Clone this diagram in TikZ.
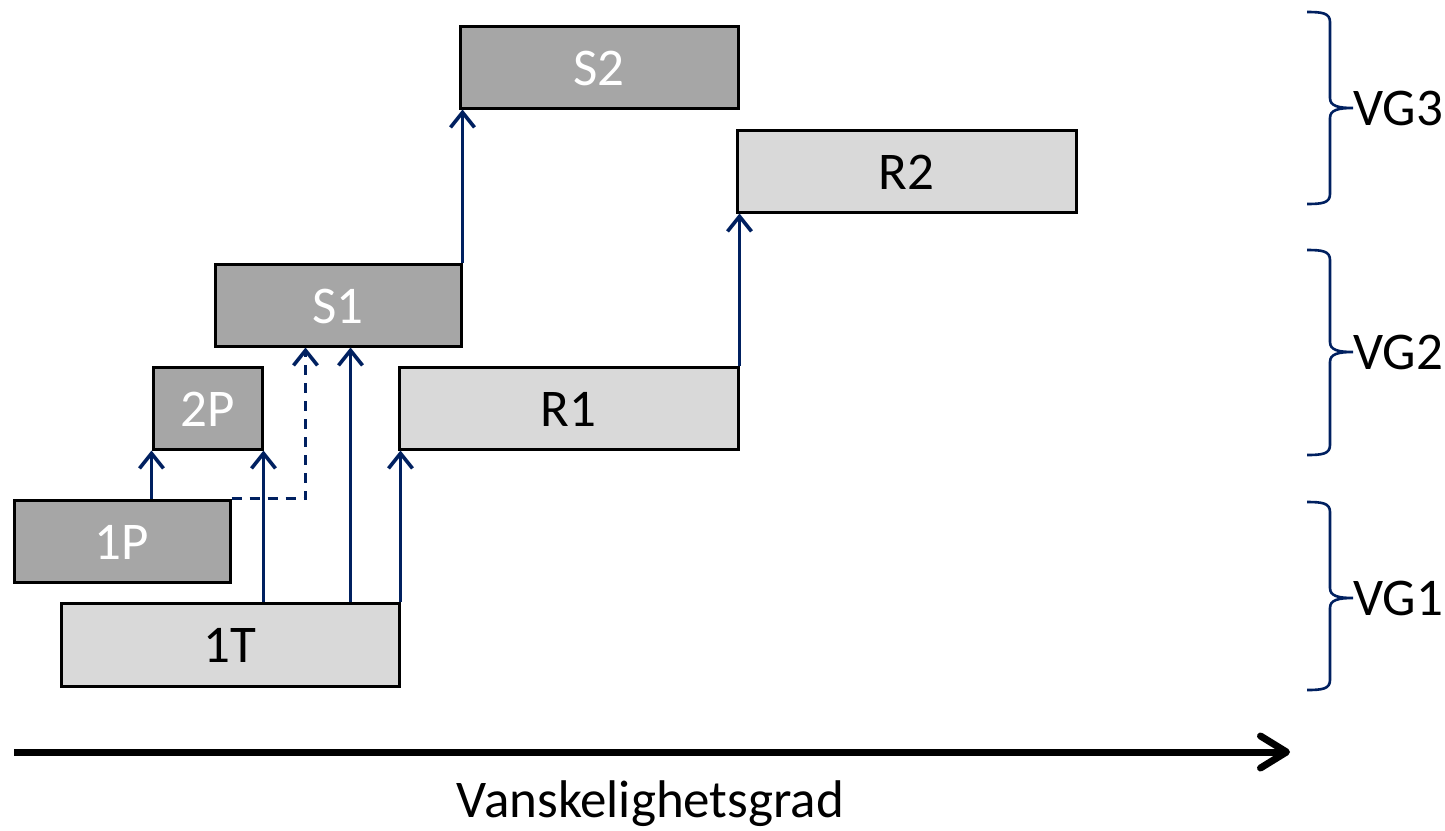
\documentclass[tikz,border=0pt]{standalone}
\usepackage{fontspec}
\setmainfont{Carlito}
\usetikzlibrary{arrows.meta}
\definecolor{navy}{HTML}{002060}
\definecolor{boxdark}{HTML}{A6A6A6}
\definecolor{boxlight}{HTML}{D9D9D9}
\begin{document}
\begin{tikzpicture}[x=1pt,y=-1pt,
 box/.style={draw=black,line width=3pt,rectangle,inner sep=0pt,text height=36pt,text depth=0pt,font=\fontsize{53}{58}\selectfont},
 dark/.style={box,fill=boxdark,text=white},
 light/.style={box,fill=boxlight,text=black},
 up/.style={draw=navy,line width=3.6pt,-{Straight Barb[length=15pt,width=24pt]}},
 dashup/.style={up,dash pattern=on 10pt off 8pt},
 bracestyle/.style={draw=navy,line width=2.6pt},
 vglabel/.style={anchor=west,inner sep=0pt,font=\fontsize{53}{58}\selectfont},
 axisarrow/.style={draw=black,line width=7pt,-{Straight Barb[length=26pt,width=32pt,line cap=round,line join=round]}}
]
\useasboundingbox (0,0) rectangle (1445,830);
% boxes
\node[dark,minimum width=278pt,minimum height=82pt] (S2) at (599,67) {S2};
\node[light,minimum width=339pt,minimum height=82pt] (R2) at (906.5,171) {R2};
\node[dark,minimum width=246pt,minimum height=82pt] (S1) at (338,305) {S1};
\node[dark,minimum width=109pt,minimum height=82pt] (2P) at (207.5,408) {2P};
\node[light,minimum width=339pt,minimum height=82pt] (R1) at (568.5,408) {R1};
\node[dark,minimum width=216pt,minimum height=82pt] (1P) at (122,541) {1P};
\node[light,minimum width=338pt,minimum height=83pt] (1T) at (230,644.5) {1T};
% arrows
\coordinate (d1) at ([xshift=92pt]S1.south west);
\coordinate (d2) at ([xshift=137pt]S1.south west);
\draw[up] (1P.north -| 2P.south west) -- (2P.south west);
\draw[up] (1T.north -| 2P.south east) -- (2P.south east);
\draw[dashup] (1P.north east) -| (d1);
\draw[up] (1T.north -| d2) -- (d2);
\draw[up] (1T.north east) -- (1T.north east |- R1.south);
\draw[up] (S1.north east) -- (S1.north east |- S2.south);
\draw[up] (R1.north east) -- (R1.north east |- R2.south);
% braces
\foreach \t/\m/\b/\lab in {12/108/204/VG3, 250/352/455/VG2, 502/598/690/VG1}{
  \node[vglabel] (\lab) at (1353,\m) {\lab};
  \draw[bracestyle] (1307,\t) .. controls (1322,\t) and (1330,\t+1) .. (1330,\t+10)
    -- (1330,\m-10) .. controls (1330,\m-2) and (1338,\m) .. (\lab.west)
    .. controls (1338,\m) and (1330,\m+2) .. (1330,\m+10)
    -- (1330,\b-10) .. controls (1330,\b-1) and (1322,\b) .. (1307,\b);
}
% axis
\coordinate (a0) at (14,752);
\coordinate (a1) at (1290,752);
\draw[axisarrow] (a0) -- (a1);
\node[font=\fontsize{53}{58}\selectfont,inner sep=0pt,anchor=base] (lbl) at (650.5,817) {Vanskelighetsgrad};
\end{tikzpicture}
\end{document}
